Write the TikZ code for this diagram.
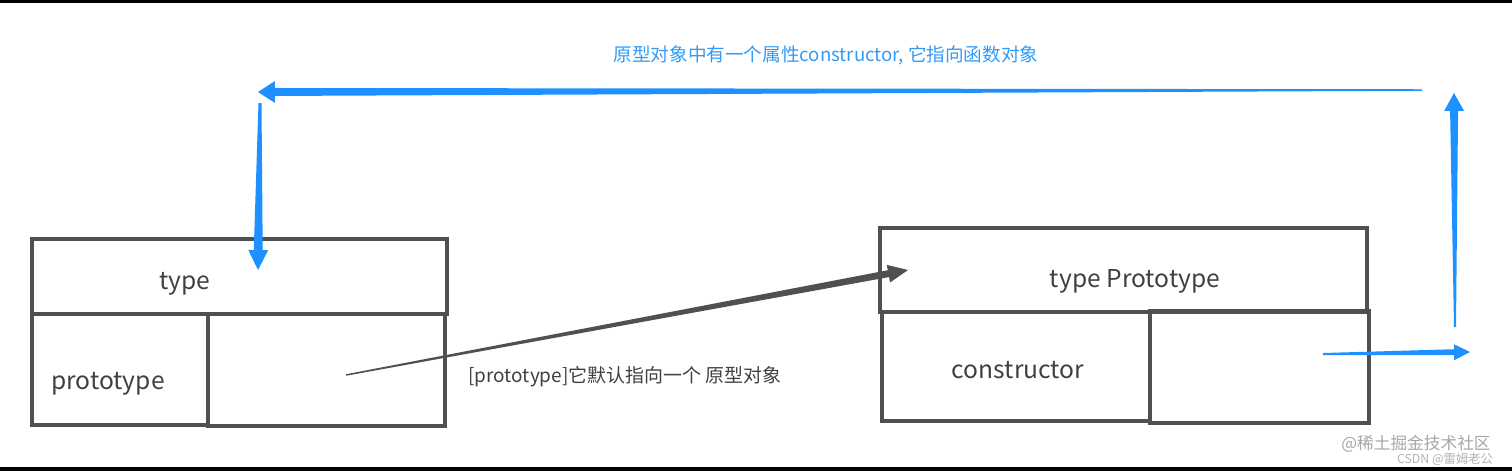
\documentclass[tikz,border=0pt]{standalone}
\usepackage{fontspec}
\setmainfont{Noto Sans CJK SC}
\usetikzlibrary{calc}

\definecolor{boxgray}{RGB}{80,80,80}
\definecolor{textgray}{RGB}{64,64,64}
\definecolor{arrowblue}{RGB}{30,144,255}
\definecolor{noteblue}{RGB}{50,155,245}

% tapered arrow: colour, from, to, tail width, shaft width, head half width, head length (px)
\newcommand{\tarrow}[7]{%
  \path ($(#3)!#7*0.567pt!(#2)$) coordinate (ta-base);
  \fill[#1] ($(#2)!#4*0.2835pt!90:(#3)$) -- ($(ta-base)!#5*0.2835pt!90:(#3)$)
    -- ($(ta-base)!#6*0.567pt!90:(#3)$) -- (#3) -- ($(ta-base)!#6*0.567pt!-90:(#3)$)
    -- ($(ta-base)!#5*0.2835pt!-90:(#3)$) -- ($(#2)!#4*0.2835pt!-90:(#3)$) -- cycle;
}

\begin{document}
\begin{tikzpicture}[x=0.02cm, y=-0.02cm,
  cell/.style={draw=boxgray, line width=1.8pt},
  bold cell/.style={draw=boxgray, line width=2.4pt},
  label/.style={text=textgray, font=\fontsize{14}{16}\selectfont, inner sep=0pt}]
\useasboundingbox (0,0) rectangle (1512,471);
\fill[black] (0,0) rectangle (1512,3);
\fill[black] (0,467) rectangle (1512,471);

% type
\draw[cell] (32,239) rectangle (447,314);
\draw[cell] (32,314) rectangle (208,425);
\draw[bold cell] (208,314) rectangle (445,426);
\node[label] (type) at (185,284) {type};
\node[label] (typeproto) at (108,384) {prototype};

% type Prototype
\draw[cell] (880,228) rectangle (1367,312);
\draw[cell] (882,312) rectangle (1150,421);
\draw[bold cell] (1150,311) rectangle (1369,423);
\node[label] (ptype) at (1135,281) {type Prototype};
\node[label] (ctor) at (1018,370) {constructor};

\coordinate (protoout) at (346,375);
\coordinate (protoin) at (908,270);
\coordinate (ctorout) at (1323,354);
\coordinate (ctorend) at (1470,352);
\coordinate (upstart) at (1455,327);
\coordinate (upend) at (1454,93);
\coordinate (backstart) at (1422,90);
\coordinate (backend) at (258,92);
\coordinate (downstart) at (260,103);
\coordinate (downend) at (258,270);

\tarrow{boxgray}{protoout}{protoin}{1.5}{7}{9}{20}
\tarrow{arrowblue}{ctorout}{ctorend}{2}{6}{8}{16}
\tarrow{arrowblue}{upstart}{upend}{2}{8}{10}{18}
\tarrow{arrowblue}{backstart}{backend}{1.5}{8}{11}{17}
\tarrow{arrowblue}{downstart}{downend}{3}{9}{10}{20}

\node[text=noteblue, font=\fontsize{10.6}{12}\selectfont] (ctornote) at (826,55) {原型对象中有一个属性constructor, 它指向函数对象};
\node[text=textgray, font=\fontsize{10.8}{12}\selectfont] (protonote) at (625,377) {[prototype]它默认指向一个 原型对象};

\node[text=gray!70, font=\fontsize{9.5}{11}\selectfont, inner sep=0pt] (wm1) at (1416,444) {@稀土掘金技术社区};
\node[text=gray!60, font=\fontsize{7}{8}\selectfont, inner sep=0pt] (wm2) at (1445,459) {CSDN @雷姆老公};
\end{tikzpicture}
\end{document}
